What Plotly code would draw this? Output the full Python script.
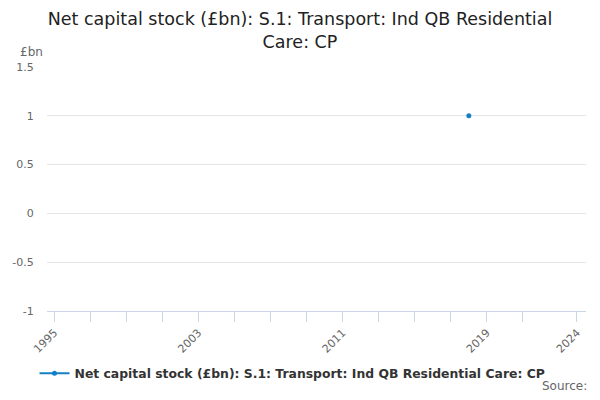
import plotly.graph_objs as go

# Series: only one observation has a value
years = [1995, 1996, 1997, 1998, 1999, 2000, 2001, 2002, 2003, 2004, 2005, 2006, 2007, 2008, 2009,
         2010, 2011, 2012, 2013, 2014, 2015, 2016, 2017, 2018, 2019, 2020, 2021, 2022, 2023, 2024]
values = [None] * 23 + [1] + [None] * 6

tick_years = [1995, 1997, 1999, 2001, 2003, 2005, 2007, 2009, 2011, 2013, 2015, 2017, 2019, 2021, 2024]
labelled_years = [1995, 2003, 2011, 2019, 2024]
y_ticks = [-1, -0.5, 0, 0.5, 1, 1.5]
y_labels = ['-1', '-0.5', '0', '0.5', '1', '1.5']

series_name = 'Net capital stock (£bn): S.1: Transport: Ind QB Residential Care: CP'
colour = '#1380c6'

trace = go.Scatter(name=series_name, x=years, y=values, mode='lines+markers',
                   line={'color': colour, 'width': 2}, marker={'color': colour, 'size': 5},
                   connectgaps=False)

layout = {
    "title": dict(text='Net capital stock (£bn): S.1: Transport: Ind QB Residential<br>Care: CP',
                  x=0.5, xanchor='center', y=0.955, yanchor='top', yref='container',
                  font=dict(size=17.5, color='#222222')),
    "font": dict(family='DejaVu Sans', color='#666666', size=11),
    "margin": dict(l=39, r=6, t=59, b=81, autoexpand=False),
    "plot_bgcolor": 'white',
    "paper_bgcolor": 'white',
    "showlegend": True,
    "legend": dict(orientation='h', x=0.4555, xanchor='center', y=-0.195, yanchor='top',
                   font=dict(size=12.4, color='#333333', weight='bold')),
    "xaxis": dict(range=[1994.6, 2024.5], tickvals=tick_years,
                  ticktext=[str(y) if y in labelled_years else '' for y in tick_years],
                  tickangle=-45, ticks='outside', ticklen=10, tickcolor='#ccd6eb',
                  showline=True, linecolor='#ccd6eb', showgrid=False, zeroline=False,
                  automargin=False),
    "yaxis": dict(range=[-1, 1.5], tickvals=y_ticks, ticktext=y_labels, ticks='outside', ticklen=10,
                  tickcolor='rgba(0,0,0,0)', showgrid=True, gridcolor='#e6e6e6',
                  zeroline=False, showline=False, automargin=False),
    "annotations": [
        dict(text='£bn', xref='paper', yref='paper', x=0, y=1, xanchor='right', yanchor='bottom',
             xshift=-2, yshift=6, showarrow=False, font=dict(size=12, color='#666666')),
        dict(text='Source:', xref='paper', yref='paper', x=1, y=0, xanchor='right', yanchor='middle',
             xshift=3, yshift=-75, showarrow=False, font=dict(size=12, color='#666666')),
    ],
}

fig = go.Figure(data=[trace], layout=layout)
fig.write_html("out.html")
